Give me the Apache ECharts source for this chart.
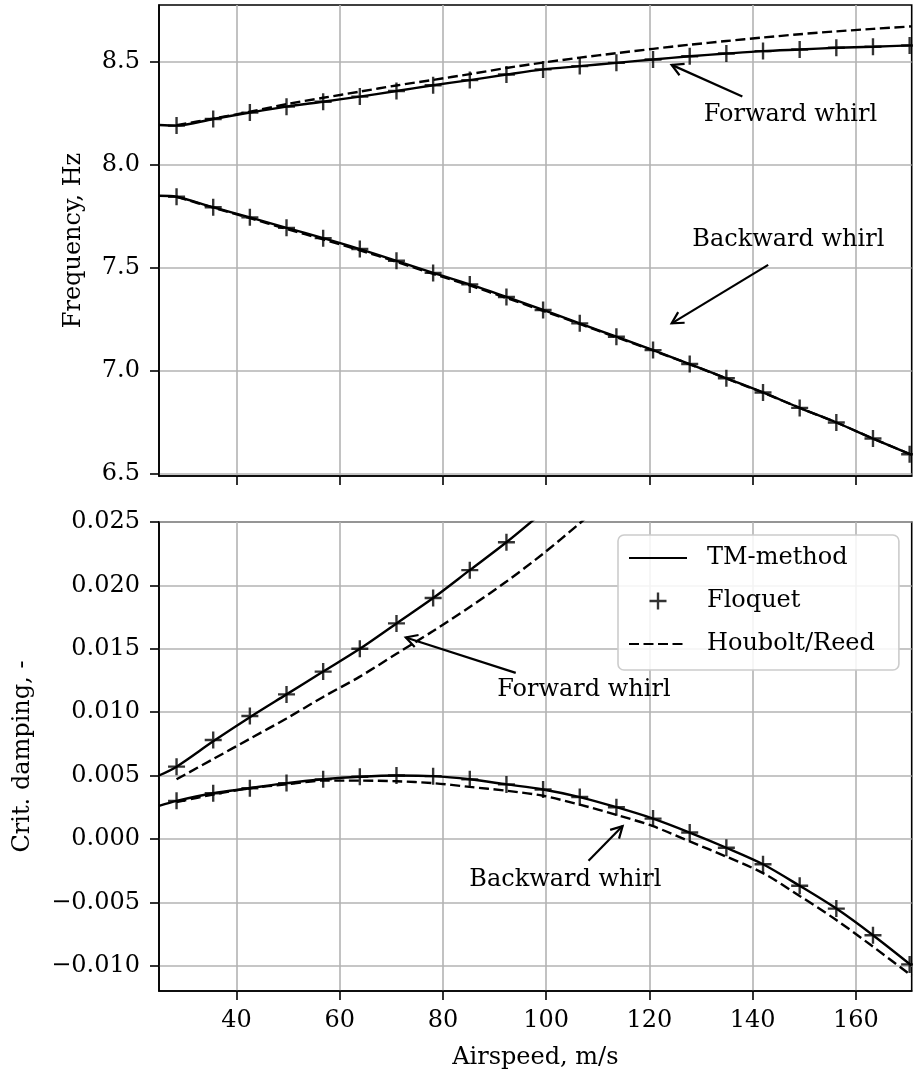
<!DOCTYPE html>
<html>
<head>
<meta charset="utf-8">
<script src="https://cdn.jsdelivr.net/npm/echarts@6/dist/echarts.min.js"></script>
<style>
  html, body { margin: 0; padding: 0; background: #fff; }
  #chart { width: 913px; height: 1078px; }
</style>
</head>
<body>
<div id="chart"></div>
<script>
// Airspeed samples (m/s)
const speedTM = [25, 28.4, 35.5, 42.6, 49.7, 56.8, 63.9, 71.0, 78.1, 85.2, 92.3, 99.4, 106.5, 113.6, 120.7, 127.8, 134.9, 142.0, 149.1, 156.2, 163.3, 170.8];
const speedFloquet = [28.4, 35.5, 42.6, 49.7, 56.8, 63.9, 71.0, 78.1, 85.2, 92.3, 99.4, 106.5, 113.6, 120.7, 127.8, 134.9, 142.0, 149.1, 156.2, 163.3, 170.4];
const speedHR = [28.4, 35.5, 42.6, 49.7, 56.8, 63.9, 71.0, 78.1, 85.2, 92.3, 99.4, 106.5, 113.6, 120.7, 127.8, 134.9, 142.0, 149.1, 156.2, 163.3, 170.8];

// Frequency, Hz
const freqFwdTM = [8.193, 8.190, 8.222, 8.253, 8.282, 8.306, 8.331, 8.358, 8.386, 8.411, 8.438, 8.463, 8.479, 8.495, 8.511, 8.527, 8.540, 8.552, 8.560, 8.568, 8.573, 8.580];
const freqFwdFloquet = [8.190, 8.222, 8.253, 8.282, 8.306, 8.331, 8.358, 8.386, 8.411, 8.438, 8.463, 8.479, 8.495, 8.511, 8.527, 8.540, 8.552, 8.560, 8.568, 8.573, 8.579];
const freqFwdHR = [8.192, 8.224, 8.257, 8.294, 8.325, 8.355, 8.385, 8.412, 8.440, 8.470, 8.496, 8.520, 8.542, 8.563, 8.583, 8.601, 8.618, 8.634, 8.648, 8.660, 8.672];

const freqBwdTM = [7.849, 7.844, 7.793, 7.744, 7.693, 7.643, 7.590, 7.533, 7.474, 7.418, 7.357, 7.294, 7.229, 7.164, 7.099, 7.031, 6.962, 6.893, 6.818, 6.747, 6.669, 6.590];
const freqBwdFloquet = [7.844, 7.793, 7.744, 7.693, 7.643, 7.590, 7.533, 7.474, 7.418, 7.357, 7.294, 7.229, 7.164, 7.099, 7.031, 6.962, 6.893, 6.818, 6.747, 6.669, 6.593];
const freqBwdHR = [7.844, 7.791, 7.740, 7.688, 7.637, 7.584, 7.528, 7.469, 7.413, 7.352, 7.290, 7.226, 7.161, 7.097, 7.030, 6.961, 6.892, 6.818, 6.747, 6.669, 6.590];

// Critical damping, -
const dampFwdTM = [0.0050, 0.0057, 0.0077, 0.0096, 0.0114, 0.0132, 0.0150, 0.0170, 0.0190, 0.0212, 0.0234, 0.0258];
const dampFwdFloquet = [0.0057, 0.0078, 0.0097, 0.0114, 0.0132, 0.0150, 0.0170, 0.0190, 0.0212, 0.0234];
const dampFwdHR = [0.0047, 0.0063, 0.0079, 0.0095, 0.0112, 0.0128, 0.0146, 0.0164, 0.0183, 0.0203, 0.0225, 0.0249, 0.0274];

const dampBwdTM = [0.0026, 0.0030, 0.0036, 0.0040, 0.0044, 0.0047, 0.0049, 0.0050, 0.00495, 0.0047, 0.0043, 0.0039, 0.0033, 0.0025, 0.0016, 0.0005, -0.0007, -0.0020, -0.0037, -0.0055, -0.0076, -0.0100];
const dampBwdFloquet = [0.0030, 0.0036, 0.0040, 0.0044, 0.0047, 0.0049, 0.0050, 0.00495, 0.0047, 0.0043, 0.0039, 0.0033, 0.0025, 0.0016, 0.0005, -0.0007, -0.0020, -0.0037, -0.0055, -0.0076, -0.0099];
const dampBwdHR = [0.0029, 0.0035, 0.0040, 0.0043, 0.0046, 0.0046, 0.00455, 0.0044, 0.0041, 0.0038, 0.0034, 0.0027, 0.0019, 0.0010, -0.0002, -0.0014, -0.0027, -0.0045, -0.0064, -0.0085, -0.0108];

// Tick labels
const speedTicks = [40, 60, 80, 100, 120, 140, 160];
const freqTicks = [6.5, 7.0, 7.5, 8.0, 8.5];
const dampTicks = [-0.010, -0.005, 0.000, 0.005, 0.010, 0.015, 0.020, 0.025];

// Annotations: label centre, arrow tail and arrow tip in data units
const notes = [
  { grid: 0, text: 'Forward whirl',  at: [147.3, 8.242],   tail: [138.0, 8.331],   tip: [124.3, 8.485] },
  { grid: 0, text: 'Backward whirl', at: [146.9, 7.634],   tail: [143.0, 7.513],   tip: [124.3, 7.229] },
  { grid: 1, text: 'Forward whirl',  at: [107.3, 0.01173], tail: [94.1, 0.0131],   tip: [72.8, 0.01589] },
  { grid: 1, text: 'Backward whirl', at: [103.7, -0.00324], tail: [108.2, -0.00172], tip: [114.8, 0.00101] }
];

const FONT = 'DejaVu Serif';
const FS = 24;
const GRID_COLOR = '#b3b3b3';
const LW = 2.4;
const PLUS = 'path://M-1,-0.14 L-0.14,-0.14 L-0.14,-1 L0.14,-1 L0.14,-0.14 L1,-0.14 L1,0.14 L0.14,0.14 L0.14,1 L-0.14,1 L-0.14,0.14 L-1,0.14 Z';
const HIDDEN_DOT = { color: 'rgba(0,0,0,0)', borderColor: 'rgba(0,0,0,0)', borderWidth: 0 };

const zip = (xs, ys) => ys.map((y, i) => [xs[i], y]);
const fmtDamp = v => (v < 0 ? '\u2212' : '') + Math.abs(v).toFixed(3);

function xAxisCfg(gridIndex, withLabels) {
  return {
    type: 'value', gridIndex, min: 25, max: 170.8, splitNumber: 7,
    name: withLabels ? 'Airspeed, m/s' : '',
    nameLocation: 'middle', nameGap: 55,
    nameTextStyle: { fontFamily: FONT, fontSize: FS, color: '#000' },
    axisLine: { show: true, onZero: false, lineStyle: { color: '#000', width: 1.6 } },
    axisTick: { show: true, length: 9, lineStyle: { color: '#000', width: 1.6 }, customValues: speedTicks },
    axisLabel: { show: withLabels, margin: 18, fontFamily: FONT, fontSize: FS, color: '#000', customValues: speedTicks },
    splitLine: { show: true, lineStyle: { color: GRID_COLOR, width: 1.6 } }
  };
}

function lineSeries(name, xi, xs, ys, dashed) {
  return {
    name, type: 'line', xAxisIndex: xi, yAxisIndex: xi,
    data: zip(xs, ys), showSymbol: false, symbol: 'none', smooth: 0.3,
    clip: true, silent: true, animation: false,
    lineStyle: { color: '#000', width: LW, type: dashed ? [10, 4.5] : 'solid' },
    itemStyle: { color: '#000' }
  };
}

function plusSeries(xi, xs, ys) {
  return {
    name: 'Floquet', type: 'scatter', xAxisIndex: xi, yAxisIndex: xi,
    data: zip(xs, ys), symbol: PLUS, symbolSize: 17, symbolKeepAspect: true,
    itemStyle: { color: '#000' }, silent: true, animation: false, z: 3
  };
}

const chart = echarts.init(document.getElementById('chart'), null, { renderer: 'canvas' });

chart.setOption({
  animation: false,
  backgroundColor: '#fff',
  textStyle: { fontFamily: FONT, color: '#000' },
  grid: [
    { left: 159, top: 5, width: 752.7, height: 471, show: true, borderColor: '#000', borderWidth: 1.6, backgroundColor: 'transparent' },
    { left: 159, top: 522, width: 752.7, height: 469, show: true, borderColor: '#000', borderWidth: 1.6, backgroundColor: 'transparent' }
  ],
  xAxis: [xAxisCfg(0, false), xAxisCfg(1, true)],
  yAxis: [
    {
      type: 'value', gridIndex: 0, min: 6.487, max: 8.776, splitNumber: 5,
      name: 'Frequency, Hz', nameLocation: 'middle', nameGap: 73,
      nameTextStyle: { fontFamily: FONT, fontSize: FS, color: '#000' },
      axisLine: { show: true, lineStyle: { color: '#000', width: 1.6 } },
      axisTick: { show: true, length: 9, lineStyle: { color: '#000', width: 1.6 }, customValues: freqTicks },
      axisLabel: { margin: 19, fontFamily: FONT, fontSize: FS, color: '#000', customValues: freqTicks, formatter: v => v.toFixed(1) },
      splitLine: { show: true, lineStyle: { color: GRID_COLOR, width: 1.6 } }
    },
    {
      type: 'value', gridIndex: 1, min: -0.012, max: 0.025, splitNumber: 8,
      name: 'Crit. damping, -', nameLocation: 'middle', nameGap: 124,
      nameTextStyle: { fontFamily: FONT, fontSize: FS, color: '#000' },
      axisLine: { show: true, lineStyle: { color: '#000', width: 1.6 } },
      axisTick: { show: true, length: 9, lineStyle: { color: '#000', width: 1.6 }, customValues: dampTicks },
      axisLabel: { margin: 19, fontFamily: FONT, fontSize: FS, color: '#000', customValues: dampTicks, formatter: fmtDamp },
      splitLine: { show: true, lineStyle: { color: GRID_COLOR, width: 1.6 } }
    }
  ],
  legend: {
    data: [
      { name: 'TM-method', itemStyle: HIDDEN_DOT },
      { name: 'Floquet' },
      { name: 'Houbolt/Reed', itemStyle: HIDDEN_DOT }
    ],
    orient: 'vertical', left: 618, top: 535,
    padding: [9, 24, 12, 10],
    itemWidth: 58, itemHeight: 17, itemGap: 15,
    backgroundColor: 'rgba(255,255,255,0.85)',
    borderColor: '#cccccc', borderWidth: 1.6, borderRadius: 6,
    selectedMode: false,
    textStyle: { fontFamily: FONT, fontSize: FS, color: '#000', lineHeight: 28, padding: [0, 0, 0, 15] }
  },
  series: [
    lineSeries('TM-method', 0, speedTM, freqFwdTM, false),
    lineSeries('Houbolt/Reed', 0, speedHR, freqFwdHR, true),
    plusSeries(0, speedFloquet, freqFwdFloquet),
    lineSeries('TM-method', 0, speedTM, freqBwdTM, false),
    lineSeries('Houbolt/Reed', 0, speedHR, freqBwdHR, true),
    plusSeries(0, speedFloquet, freqBwdFloquet),

    lineSeries('TM-method', 1, speedTM.slice(0, dampFwdTM.length), dampFwdTM, false),
    lineSeries('Houbolt/Reed', 1, speedHR.slice(0, dampFwdHR.length), dampFwdHR, true),
    plusSeries(1, speedFloquet.slice(0, dampFwdFloquet.length), dampFwdFloquet),
    lineSeries('TM-method', 1, speedTM, dampBwdTM, false),
    lineSeries('Houbolt/Reed', 1, speedHR, dampBwdHR, true),
    plusSeries(1, speedFloquet, dampBwdFloquet)
  ]
});

// Annotation labels with open-headed arrows, placed through the axis scales
const graphics = [];
notes.forEach(n => {
  const p = chart.convertToPixel({ gridIndex: n.grid }, n.at);
  const a = chart.convertToPixel({ gridIndex: n.grid }, n.tail);
  const b = chart.convertToPixel({ gridIndex: n.grid }, n.tip);
  graphics.push({
    type: 'text', x: p[0], y: p[1], z: 100,
    style: { text: n.text, font: FS + 'px "' + FONT + '"', fill: '#000', align: 'center', verticalAlign: 'middle', textAlign: 'center', textVerticalAlign: 'middle' }
  });
  graphics.push({
    type: 'line', z: 100,
    shape: { x1: a[0], y1: a[1], x2: b[0], y2: b[1] },
    style: { stroke: '#000', lineWidth: 2.2 }
  });
  const ang = Math.atan2(a[1] - b[1], a[0] - b[0]);
  const L = 13, h = 0.5;
  graphics.push({
    type: 'polyline', z: 100,
    shape: { points: [
      [b[0] + L * Math.cos(ang + h), b[1] + L * Math.sin(ang + h)],
      [b[0], b[1]],
      [b[0] + L * Math.cos(ang - h), b[1] + L * Math.sin(ang - h)]
    ] },
    style: { stroke: '#000', lineWidth: 2.2, fill: null }
  });
});
chart.setOption({ graphic: graphics });
</script>
</body>
</html>
